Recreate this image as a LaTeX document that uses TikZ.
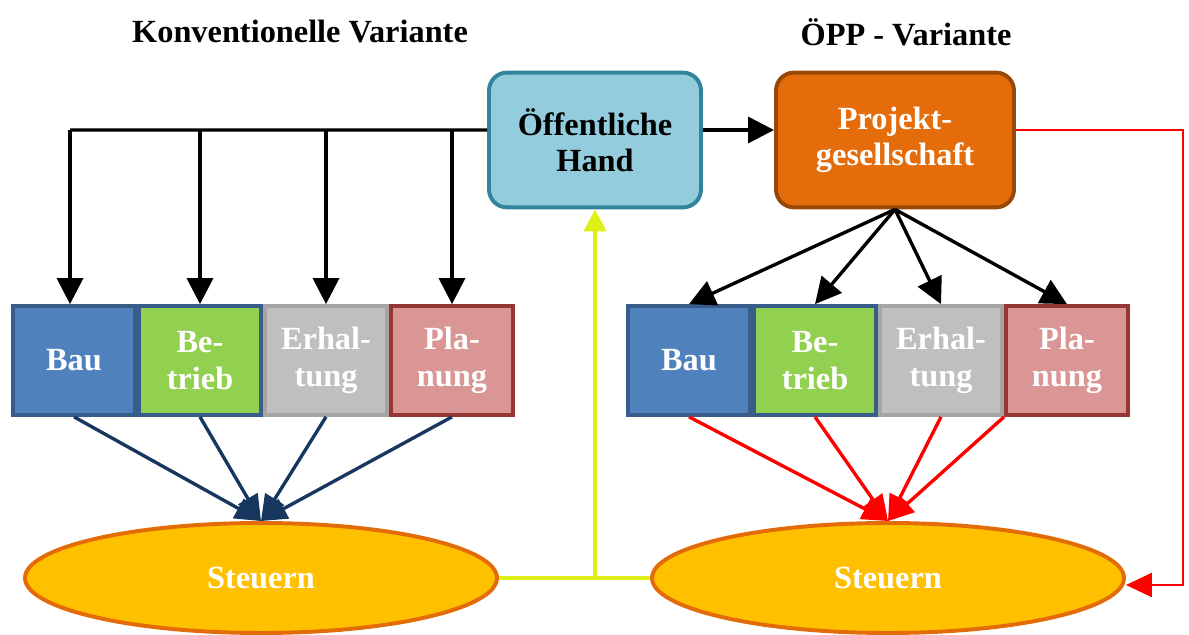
\documentclass[tikz,border=0pt]{standalone}
\usepackage{fontspec}
\setmainfont{Liberation Serif}
\usepackage{tikz}
\usetikzlibrary{arrows.meta, shapes.geometric, positioning, calc}

\definecolor{handfill}{RGB}{147,205,221}
\definecolor{handline}{RGB}{49,132,155}
\definecolor{pgfill}{RGB}{228,108,10}
\definecolor{pgline}{RGB}{152,72,7}
\definecolor{baufill}{RGB}{79,129,189}
\definecolor{blueline}{RGB}{56,93,138}
\definecolor{betfill}{RGB}{146,208,80}
\definecolor{erhfill}{RGB}{191,191,191}
\definecolor{erhline}{RGB}{165,165,165}
\definecolor{planfill}{RGB}{217,150,148}
\definecolor{planline}{RGB}{149,55,53}
\definecolor{stfill}{RGB}{255,192,0}
\definecolor{stline}{RGB}{227,108,9}
\definecolor{navy}{RGB}{23,55,94}
\definecolor{yel}{RGB}{222,240,20}

\begin{document}
\begin{tikzpicture}[
	txt/.style={font=\fontsize{23}{26}\selectfont\bfseries, align=center},
	box/.style={txt, draw, line width=2.8pt, minimum width=3.05cm, minimum height=2.72cm, inner sep=0pt, text=white},
	top/.style={txt, draw, line width=2.8pt, rounded corners=0.45cm, minimum height=3.37cm, inner sep=0pt},
	steuer/.style={txt, ellipse, draw=stline, fill=stfill, line width=2.8pt, minimum width=11.8cm, minimum height=2.75cm, inner sep=0pt, text=white},
	blk/.style={line width=2.4pt, -{Triangle[length=0.65cm, width=0.65cm]}},
	nav/.style={navy, line width=2.4pt, -{Triangle[length=0.65cm, width=0.55cm]}},
	rd/.style={red, line width=2.4pt, -{Triangle[length=0.65cm, width=0.55cm]}},
	]
	\useasboundingbox (0,0) rectangle (29.725,15.875);
	
	\node[txt] (t1) at (7.5,15.075) {Konventionelle Variante};
	\node[txt] (t2) at (22.65,15.075) {ÖPP - Variante};
	
	\node[top, draw=handline, fill=handfill, minimum width=5.3cm] (oh) at (14.875,12.375) {Öffentliche\\Hand};
	\node[top, draw=pgline, fill=pgfill, minimum width=5.95cm, text=white] (pg) at (22.375,12.375) {Projekt-\\gesellschaft};
	
	\node[box, draw=blueline, fill=baufill] (bau1) at (1.85,6.8625) {Bau};
	\node[box, draw=blueline, fill=betfill] (bet1) at (5.0,6.8625) {Be-\\trieb};
	\node[box, draw=erhline, fill=erhfill] (erh1) at (8.15,6.8625) {Erhal-\\tung};
	\node[box, draw=planline, fill=planfill] (plan1) at (11.3,6.8625) {Pla-\\nung};
	
	\node[box, draw=blueline, fill=baufill] (bau2) at (17.225,6.8625) {Bau};
	\node[box, draw=blueline, fill=betfill] (bet2) at (20.375,6.8625) {Be-\\trieb};
	\node[box, draw=erhline, fill=erhfill] (erh2) at (23.525,6.8625) {Erhal-\\tung};
	\node[box, draw=planline, fill=planfill] (plan2) at (26.675,6.8625) {Pla-\\nung};
	
	\node[steuer] (st1) at (6.525,1.425) {Steuern};
	\node[steuer] (st2) at (22.2,1.425) {Steuern};
	
	\coordinate (hl) at (1.75,12.625);
	\coordinate (rb) at (29.575,1.25);
	
	\draw[line width=2.4pt] ([yshift=0.25cm]oh.west) -- (hl);
	\draw[blk] (hl) -- (hl |- bau1.north);
	\draw[blk] (bet1.north |- hl) -- (bet1.north);
	\draw[blk] (erh1.north |- hl) -- (erh1.north);
	\draw[blk] (plan1.north |- hl) -- (plan1.north);
	\draw[blk] ([yshift=0.25cm]oh.east) -- ([yshift=0.25cm]pg.west);
	
	\draw[blk] (pg.south) -- (bau2.north);
	\draw[blk] (pg.south) -- (bet2.north);
	\draw[blk] (pg.south) -- (erh2.north);
	\draw[blk] (pg.south) -- (plan2.north);
	
	\draw[nav] (bau1.south) -- (st1.north);
	\draw[nav] (bet1.south) -- (st1.north);
	\draw[nav] (erh1.south) -- (st1.north);
	\draw[nav] (plan1.south) -- (st1.north);
	
	\draw[rd] (bau2.south) -- (st2.north);
	\draw[rd] (bet2.south) -- (st2.north);
	\draw[rd] (erh2.south) -- (st2.north);
	\draw[rd] (plan2.south west) -- (st2.north);
	
	\draw[yel, line width=3pt] (st1.east) -- (st2.west);
	\draw[yel, line width=3pt, -{Triangle[length=0.55cm, width=0.55cm]}] (st1.east -| oh.south) -- (oh.south);
	
	\draw[red, line width=1.8pt, -{Triangle[length=0.65cm, width=0.6cm]}] ([yshift=0.25cm]pg.east) -| (rb) -- (st2.east |- rb);
\end{tikzpicture}
\end{document}
